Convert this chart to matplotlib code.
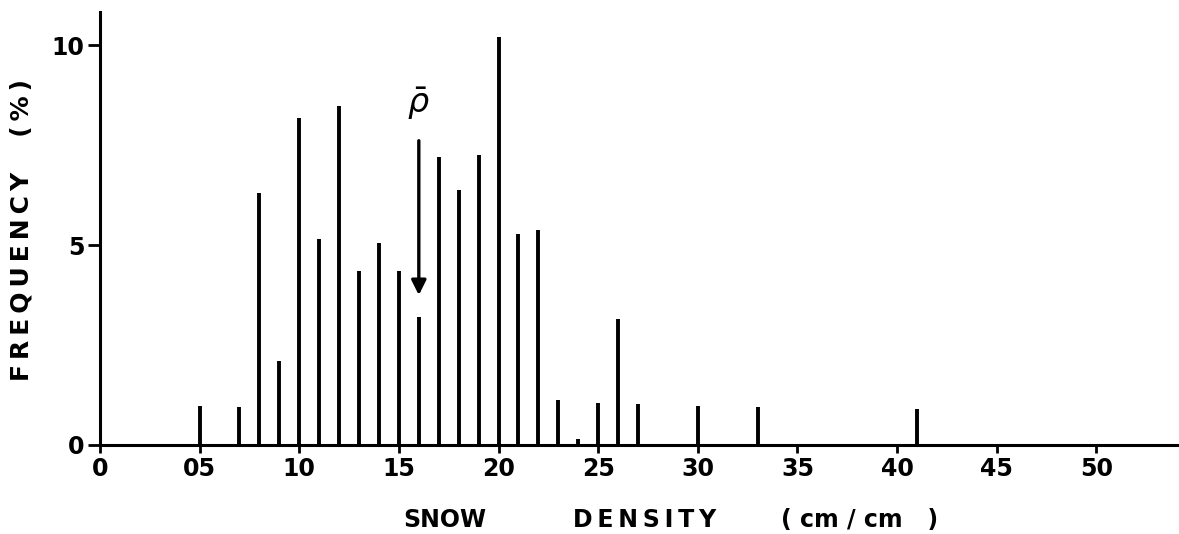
import matplotlib
matplotlib.use("Agg")
import matplotlib.pyplot as plt

# ── Data ──────────────────────────────────────────────────────────────────────
density = [5, 7, 8, 9, 10, 11, 12, 13, 14, 15, 16, 17, 18, 19, 20, 21, 22, 23, 24, 25, 26, 27, 30, 33, 41]
frequency = [0.97, 0.94, 6.30, 2.10, 8.17, 5.15, 8.49, 4.34, 5.05, 4.36, 3.21, 7.21, 6.38, 7.25, 10.2,
             5.27, 5.37, 1.12, 0.15, 1.05, 3.15, 1.03, 0.98, 0.95, 0.90]
xticks = [0, 5, 10, 15, 20, 25, 30, 35, 40, 45, 50]
xtick_labels = ["0", "05", "10", "15", "20", "25", "30", "35", "40", "45", "50"]
yticks = [0, 5, 10]
ytick_labels = ["0", "5", "10"]
mean_density = 16
arrow_from, arrow_to = 7.68, 3.68

FONT = {"family": "DejaVu Sans", "weight": "bold"}


def spaced(s):
    # the hand lettering is widely tracked; thin spaces between letters
    return "\u2009".join(s)


fig = plt.figure(figsize=(11.79, 5.34), dpi=100)
ax = fig.add_axes([100 / 1179, 89 / 534, 1078 / 1179, 433 / 534])

ax.vlines(density, 0, frequency, color="black", linewidth=2.8)

ax.set_xlim(0, 54.1)
ax.set_ylim(0, 10.83)
ax.spines[["top", "right"]].set_visible(False)
for s in ("left", "bottom"):
    ax.spines[s].set_linewidth(2.2)

ax.set_xticks(xticks)
ax.set_xticklabels(xtick_labels, fontsize=17, **FONT)
ax.set_yticks(yticks)
ax.set_yticklabels(ytick_labels, fontsize=17, **FONT)
ax.tick_params(axis="x", direction="out", length=6, width=2, pad=3)
ax.tick_params(axis="y", direction="out", length=9, width=2, pad=2)

# mean density marker
ax.annotate("", xy=(mean_density, arrow_to), xytext=(mean_density, arrow_from),
            arrowprops=dict(arrowstyle="-|>", color="black", lw=2.4, mutation_scale=22))
ax.text(mean_density, 8.55, r"$\bar{\rho}$", fontsize=24, ha="center", va="center")

# axis titles, spaced like the original lettering
fig.text(22 / 1179, 1 - 230 / 534, spaced("FREQUENCY") + "    " + spaced("(%)"),
         rotation=90, ha="center", va="center", fontsize=18, **FONT)
fig.text(445 / 1179, 1 - 520 / 534, "SNOW", ha="center", va="center", fontsize=17, **FONT)
fig.text(645 / 1179, 1 - 520 / 534, spaced("DENSITY"), ha="center", va="center", fontsize=17, **FONT)
fig.text(860 / 1179, 1 - 520 / 534, "( cm / cm   )", ha="center", va="center", fontsize=17, **FONT)

fig.savefig("out.png", dpi=100, facecolor="white")
